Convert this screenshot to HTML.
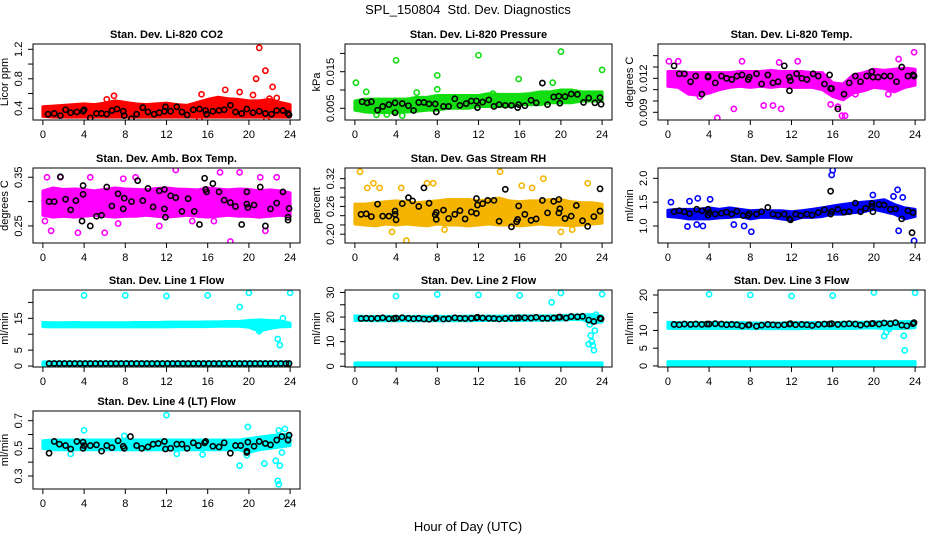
<!DOCTYPE html>
<html><head><meta charset="utf-8"><style>
body{margin:0;background:#fff}
svg text{font-family:"Liberation Sans",Arial,sans-serif}
</style></head><body>
<svg id="chart" width="936" height="540" viewBox="0 0 936 540">
<rect width="936" height="540" fill="#fff"/>
<text x="468" y="14" font-size="13" text-anchor="middle">SPL_150804&#160; Std. Dev. Diagnostics</text>
<text x="468" y="531" font-size="13" text-anchor="middle">Hour of Day (UTC)</text>
</svg>
<script>
const xTicks=[0,4,8,12,16,20,24];
const hours=[0,1,2,3,4,5,6,7,8,9,10,11,12,13,14,15,16,17,18,19,20,21,22,23,24];
const titles=["Stan. Dev. Li-820 CO2","Stan. Dev. Li-820 Pressure","Stan. Dev. Li-820 Temp.","Stan. Dev. Amb. Box Temp.","Stan. Dev. Gas Stream RH","Stan. Dev. Sample Flow","Stan. Dev. Line 1 Flow","Stan. Dev. Line 2 Flow","Stan. Dev. Line 3 Flow","Stan. Dev. Line 4 (LT) Flow"];
const yLabels=["Licor ppm","kPa","degrees C","degrees C","percent","ml/min","ml/min","ml/min","ml/min","ml/min"];
const yLims=[[0.241,1.272],[0.0018,0.02257],[0.00832,0.01503],[0.215,0.369],[0.181,0.343],[0.644,2.216],[-0.3,23.9],[-0.3,31],[-0.3,21.4],[0.206,0.77]];
const yTicks=[[0.4,0.6,0.8,1.0,1.2],[0.005,0.010,0.015,0.020],[0.009,0.010,0.011,0.012,0.013,0.014],[0.25,0.30,0.35],[0.20,0.22,0.24,0.26,0.28,0.30,0.32],[1.0,1.5,2.0],[0,5,10,15,20],[0,5,10,15,20,25,30],[0,5,10,15,20],[0.3,0.4,0.5,0.6,0.7]];
const yTickLabels=[["0.4","","0.8","","1.2"],["0.005","","0.015",""],["0.009","","","0.012","",""],["0.25","","0.35"],["0.20","","","0.26","","","0.32"],["1.0","1.5","2.0"],["0","5","","15",""],["0","","10","","20","","30"],["0","5","10","","20"],["0.3","","0.5","","0.7"]];
const colors=["#ff0000","#11dd11","#ff00ff","#ff00ff","#f4b400","#0000ff","#00ffff","#00ffff","#00ffff","#00ffff"];
const bandLo0=[0.29,0.28,0.28,0.28,0.28,0.28,0.28,0.28,0.28,0.28,0.28,0.28,0.28,0.28,0.28,0.28,0.28,0.28,0.28,0.28,0.28,0.28,0.28,0.28,0.28];
const bandHi0=[0.42,0.43,0.44,0.45,0.46,0.45,0.47,0.5,0.48,0.46,0.45,0.46,0.47,0.45,0.44,0.48,0.52,0.55,0.53,0.52,0.5,0.5,0.52,0.48,0.45];
const bandLo1=[0.0045,0.004,0.0038,0.0038,0.0038,0.004,0.0042,0.0045,0.0045,0.005,0.005,0.005,0.0055,0.0055,0.0055,0.0055,0.006,0.006,0.006,0.0065,0.0065,0.0065,0.007,0.007,0.007];
const bandHi1=[0.007,0.0075,0.0075,0.0075,0.0075,0.0075,0.008,0.008,0.0085,0.0085,0.0085,0.0085,0.0085,0.009,0.0088,0.0088,0.0088,0.009,0.0095,0.0095,0.01,0.01,0.0095,0.0095,0.0095];
const bandLo2=[0.0113,0.0112,0.0106,0.0105,0.0107,0.011,0.0112,0.0113,0.0112,0.0113,0.0112,0.0113,0.0112,0.0112,0.0112,0.011,0.0104,0.0101,0.0107,0.0109,0.0112,0.0111,0.0108,0.0112,0.0114];
const bandHi2=[0.0126,0.0126,0.0125,0.0125,0.0125,0.0125,0.0125,0.0126,0.0126,0.0126,0.0127,0.0126,0.0126,0.0126,0.0125,0.0125,0.0116,0.0115,0.0123,0.0125,0.0128,0.0127,0.0128,0.0129,0.0128];
const bandLo3=[0.272,0.268,0.27,0.268,0.27,0.272,0.27,0.268,0.27,0.27,0.272,0.27,0.268,0.27,0.272,0.27,0.268,0.27,0.272,0.27,0.27,0.268,0.27,0.272,0.27];
const bandHi3=[0.322,0.328,0.325,0.326,0.325,0.322,0.325,0.328,0.326,0.325,0.324,0.327,0.328,0.326,0.325,0.324,0.328,0.326,0.324,0.326,0.325,0.322,0.324,0.322,0.318];
const bandLo4=[0.222,0.22,0.218,0.222,0.22,0.222,0.22,0.218,0.222,0.22,0.22,0.218,0.22,0.222,0.22,0.22,0.218,0.22,0.222,0.22,0.22,0.218,0.22,0.222,0.224];
const bandHi4=[0.265,0.265,0.268,0.27,0.272,0.27,0.268,0.27,0.272,0.275,0.275,0.275,0.272,0.275,0.278,0.272,0.27,0.272,0.272,0.275,0.275,0.27,0.268,0.268,0.265];
const bandLo5=[1.2,1.18,1.15,1.15,1.15,1.17,1.18,1.2,1.15,1.18,1.18,1.15,1.12,1.18,1.18,1.2,1.25,1.25,1.28,1.3,1.35,1.3,1.25,1.15,1.2];
const bandHi5=[1.33,1.35,1.35,1.35,1.38,1.35,1.38,1.35,1.32,1.33,1.32,1.32,1.3,1.32,1.35,1.38,1.42,1.45,1.48,1.5,1.52,1.55,1.45,1.38,1.35];
const bandLo6=[12.4,12.3,12.3,12.3,12.3,12.3,12.3,12.3,12.3,12.3,12.3,12.3,12.3,12.4,12.4,12.4,12.4,12.5,12.5,12.5,12.2,11.0,11.8,12.3,12.4];
const bandHi6=[13.7,13.6,13.6,13.7,13.6,13.6,13.6,13.6,13.6,13.7,13.7,13.7,13.8,13.8,13.8,13.8,13.9,13.9,14.0,14.0,14.3,14.5,14.3,14.2,13.5];
const bandLo6b=[0.3,0.3,0.3,0.3,0.3,0.3,0.3,0.3,0.3,0.3,0.3,0.3,0.3,0.3,0.3,0.3,0.3,0.3,0.3,0.3,0.3,0.3,0.3,0.3,0.3];
const bandHi6b=[1.3,1.3,1.3,1.3,1.3,1.3,1.3,1.3,1.3,1.3,1.3,1.3,1.3,1.3,1.3,1.3,1.3,1.3,1.3,1.3,1.3,1.3,1.3,1.3,1.3];
const bandLo7=[18.6,18.6,18.5,18.5,18.5,18.5,18.5,18.5,18.5,18.5,18.5,18.5,18.6,18.6,18.6,18.6,18.6,18.7,18.7,18.7,18.8,19.0,19.0,17.5,18.0];
const bandHi7=[20.5,20.3,20.3,20.3,20.3,20.3,20.3,20.3,20.3,20.3,20.3,20.4,20.4,20.4,20.4,20.4,20.5,20.5,20.5,20.5,20.6,20.8,20.8,21.0,20.5];
const bandLo7b=[0.4,0.4,0.4,0.4,0.4,0.4,0.4,0.4,0.4,0.4,0.4,0.4,0.4,0.4,0.4,0.4,0.4,0.4,0.4,0.4,0.4,0.4,0.4,0.4,0.4];
const bandHi7b=[1.4,1.4,1.4,1.4,1.4,1.4,1.4,1.4,1.4,1.4,1.4,1.4,1.4,1.4,1.4,1.4,1.4,1.4,1.4,1.4,1.4,1.4,1.4,1.4,1.4];
const bandLo8=[10.6,10.6,10.6,10.6,10.6,10.6,10.6,10.6,10.5,10.5,10.5,10.5,10.5,10.5,10.6,10.6,10.6,10.6,10.6,10.7,10.7,10.5,10.6,10.6,10.8];
const bandHi8=[12.3,12.2,12.2,12.2,12.2,12.2,12.2,12.2,12.1,12.1,12.1,12.1,12.2,12.2,12.2,12.2,12.2,12.3,12.3,12.3,12.4,12.5,12.4,12.5,12.6];
const bandLo8b=[0.3,0.3,0.3,0.3,0.3,0.3,0.3,0.3,0.3,0.3,0.3,0.3,0.3,0.3,0.3,0.3,0.3,0.3,0.3,0.3,0.3,0.3,0.3,0.3,0.3];
const bandHi8b=[1.2,1.2,1.2,1.2,1.2,1.2,1.2,1.2,1.2,1.2,1.2,1.2,1.2,1.2,1.2,1.2,1.2,1.2,1.2,1.2,1.2,1.2,1.2,1.2,1.2];
const bandLo9=[0.5,0.49,0.49,0.49,0.49,0.49,0.49,0.49,0.49,0.49,0.49,0.49,0.49,0.49,0.49,0.49,0.49,0.49,0.49,0.49,0.47,0.49,0.5,0.51,0.52];
const bandHi9=[0.555,0.56,0.56,0.56,0.56,0.56,0.56,0.56,0.56,0.56,0.56,0.56,0.56,0.56,0.56,0.56,0.56,0.56,0.56,0.56,0.57,0.58,0.59,0.6,0.6];
const bands=[[[bandLo0,bandHi0]],[[bandLo1,bandHi1]],[[bandLo2,bandHi2]],[[bandLo3,bandHi3]],[[bandLo4,bandHi4]],[[bandLo5,bandHi5]],[[bandLo6,bandHi6],[bandLo6b,bandHi6b]],[[bandLo7,bandHi7],[bandLo7b,bandHi7b]],[[bandLo8,bandHi8],[bandLo8b,bandHi8b]],[[bandLo9,bandHi9]]];
const outliers0=[[21,1.22],[20.7,0.8],[21.6,0.91],[22.3,0.69],[22,0.53],[6.9,0.57],[15.4,0.59],[17.7,0.65],[19.1,0.62],[20.4,0.58],[22.7,0.54],[6.2,0.52],[21.7,0.25],[15.2,0.26],[8.6,0.26]];
const outliers1=[[0.1,0.012],[1.1,0.0095],[4,0.0181],[8,0.014],[8,0.0102],[12,0.0195],[15.9,0.013],[19.2,0.012],[20,0.0205],[24,0.0155],[6,0.0093],[13.4,0.009],[2.1,0.0032],[4.6,0.003],[3.1,0.0033]];
const outliers2=[[0.1,0.0135],[1,0.0135],[7.2,0.0135],[10.8,0.0134],[12.6,0.0135],[23.9,0.0143],[22.4,0.0137],[4.8,0.0085],[6.4,0.0093],[11,0.0093],[9.3,0.0096],[10.2,0.0096],[16.5,0.0095],[16.9,0.0087],[17.2,0.0087],[3.1,0.0104],[15.8,0.0097],[18.2,0.0106],[21.4,0.0106],[0.5,0.0118]];
const outliers3=[[0.4,0.35],[0.8,0.24],[3.4,0.236],[6,0.236],[4.6,0.35],[7.8,0.347],[12.9,0.365],[17.2,0.36],[18.2,0.218],[19.1,0.36],[21.1,0.35],[22.7,0.35],[21.6,0.24],[9,0.35],[1.7,0.35],[0.2,0.26],[11.3,0.25],[16.6,0.26],[14.5,0.26],[7.3,0.255]];
const outliers4=[[0.5,0.335],[1.2,0.3],[1.8,0.31],[2.4,0.3],[4.5,0.3],[5,0.186],[7,0.31],[7.6,0.31],[8.7,0.21],[14.1,0.335],[16.2,0.305],[17.2,0.3],[18.3,0.32],[22.6,0.31],[3.6,0.205],[20,0.205],[21.1,0.21]];
const outliers5=[[16,2.17],[15.9,2.07],[19.9,1.65],[22.3,1.76],[22.8,1.6],[22.4,0.9],[23.9,0.69],[8.1,0.88],[1.9,0.99],[2.8,1.03],[3.4,1.0],[6.4,1.03],[7.4,1.0],[0.3,1.5],[2.9,1.58],[4.1,1.56],[2.1,1.52],[21.9,1.62]];
const outliers6=[[4,22.2],[8,22.2],[12,22.0],[16,22.2],[19.1,18.6],[20,23.0],[24,23.0],[22.8,8.5],[23,6.6],[23.3,15.0],[21,11.0]];
const outliers7=[[4,28.5],[8,29.2],[12,29],[16,28.8],[19.1,26],[20,29.8],[24,29.3],[22.8,17],[22.9,12.5],[23,10],[23.1,8.5],[23.2,6.5],[23.3,14.5],[23.4,21],[22.7,9]];
const outliers8=[[4,20.2],[8,20],[12,19.7],[16,19.8],[20,20.7],[24,20.6],[21,8.4],[21.2,9.5],[22.9,8.5],[23,4.4],[21.5,10.5]];
const outliers9=[[12,0.74],[4,0.63],[19.9,0.655],[19.1,0.375],[21.5,0.39],[22.6,0.41],[23,0.375],[22.8,0.265],[22.9,0.24],[23.5,0.64],[22.9,0.63],[23.2,0.47],[7.9,0.59],[19.8,0.45],[15.5,0.455],[13,0.46],[2.7,0.46]];
const outliers=[outliers0,outliers1,outliers2,outliers3,outliers4,outliers5,outliers6,outliers7,outliers8,outliers9];
const black0=[[0.5,0.32],[1.1,0.33],[1.7,0.3],[2.2,0.38],[2.7,0.34],[3.3,0.35],[3.9,0.36],[4,0.38],[4.6,0.27],[5.2,0.33],[5.7,0.33],[6.2,0.32],[6.7,0.37],[7.2,0.39],[7.8,0.36],[7.9,0.3],[8.6,0.26],[9.1,0.32],[9.7,0.41],[10.2,0.35],[10.8,0.32],[11.3,0.34],[11.8,0.36],[11.9,0.42],[12.4,0.36],[13,0.42],[13.5,0.35],[14,0.31],[14.6,0.38],[15.2,0.39],[15.8,0.37],[15.9,0.32],[16.5,0.36],[17.1,0.37],[17.6,0.38],[18.2,0.44],[18.7,0.35],[19.3,0.33],[19.8,0.39],[20.4,0.34],[21,0.36],[21.6,0.33],[22.2,0.32],[22.7,0.37],[23.3,0.37],[23.8,0.33],[23.9,0.31]];
const black1=[[0.7,0.0068],[1.2,0.0065],[1.6,0.0068],[2.2,0.0045],[2.7,0.0055],[3.3,0.006],[3.9,0.0065],[3.9,0.0038],[4.6,0.0063],[5.2,0.0057],[5.7,0.0044],[6.2,0.0066],[6.7,0.0066],[7.2,0.0062],[7.8,0.0062],[7.9,0.004],[8.6,0.0055],[9.1,0.0055],[9.7,0.0076],[10.2,0.0058],[10.8,0.0063],[11.3,0.007],[11.8,0.007],[11.9,0.0052],[12.4,0.0067],[13,0.0073],[13.5,0.0055],[14,0.006],[14.6,0.0058],[15.2,0.0058],[15.8,0.0052],[15.9,0.006],[16.5,0.0057],[17.1,0.0072],[17.6,0.0065],[18.2,0.0119],[18.7,0.006],[19.3,0.0081],[19.8,0.0083],[19.9,0.0064],[20.4,0.0082],[21,0.0089],[21.6,0.0088],[22.2,0.0066],[22.7,0.0078],[23.3,0.0065],[23.8,0.0079],[23.9,0.0061]];
const black2=[[0.6,0.0131],[1.1,0.0124],[1.6,0.0124],[2.2,0.0117],[2.7,0.0122],[3.3,0.0106],[3.9,0.0122],[3.9,0.0121],[4.6,0.0116],[5.2,0.0122],[5.7,0.012],[6.2,0.0119],[6.7,0.0122],[7.2,0.0123],[7.8,0.0119],[7.9,0.0121],[8.6,0.0124],[9.1,0.0115],[9.7,0.0123],[10.2,0.0116],[10.7,0.0117],[11.3,0.0131],[11.8,0.0121],[11.8,0.0109],[11.9,0.0118],[12.5,0.0124],[13,0.012],[13.5,0.0119],[14.1,0.0124],[14.6,0.0122],[15.2,0.0115],[15.7,0.0123],[15.8,0.0111],[15.9,0.0111],[16.5,0.0093],[17.1,0.0106],[17.6,0.0116],[18.2,0.0122],[18.7,0.0117],[19.3,0.0122],[19.8,0.0126],[19.9,0.0121],[20.4,0.0121],[21,0.0122],[21.6,0.0122],[22.2,0.0117],[22.7,0.013],[23.3,0.0122],[23.8,0.0123],[23.9,0.0122]];
const black3=[[0.6,0.3],[1.1,0.3],[1.7,0.351],[2.2,0.305],[2.7,0.283],[3.2,0.302],[3.8,0.26],[3.9,0.315],[3.9,0.333],[4.6,0.25],[5.2,0.27],[5.7,0.272],[6.2,0.33],[6.7,0.291],[7.3,0.316],[7.8,0.285],[7.9,0.307],[8.6,0.3],[9.2,0.343],[9.7,0.302],[10.2,0.327],[10.7,0.289],[11.3,0.322],[11.8,0.325],[11.8,0.285],[11.9,0.268],[12.4,0.312],[12.9,0.308],[13.5,0.28],[14.1,0.306],[14.7,0.28],[15.2,0.253],[15.7,0.348],[15.8,0.325],[15.9,0.32],[16.5,0.337],[17.1,0.32],[17.6,0.303],[18.2,0.298],[18.7,0.29],[19.3,0.253],[19.8,0.32],[19.8,0.295],[19.9,0.288],[20.5,0.293],[21.1,0.33],[21.6,0.25],[22.1,0.285],[22.7,0.297],[23.3,0.32],[23.8,0.268],[23.9,0.286],[23.8,0.262]];
const black4=[[0.6,0.243],[1.1,0.244],[1.6,0.238],[2.2,0.265],[2.7,0.239],[3.3,0.239],[3.9,0.243],[3.9,0.25],[4,0.231],[4.6,0.266],[5.2,0.279],[5.6,0.272],[6.2,0.26],[6.7,0.3],[7.2,0.267],[7.8,0.242],[7.9,0.232],[7.9,0.247],[8.6,0.252],[9.1,0.234],[9.7,0.243],[10.2,0.251],[10.7,0.233],[11.3,0.248],[11.8,0.277],[11.8,0.245],[11.9,0.263],[12.4,0.266],[12.9,0.273],[13.5,0.273],[14,0.228],[14.6,0.297],[15.2,0.216],[15.7,0.227],[15.8,0.232],[15.9,0.261],[16.5,0.243],[17.1,0.23],[17.6,0.233],[18.2,0.273],[18.7,0.246],[19.3,0.271],[19.8,0.246],[19.8,0.275],[19.9,0.255],[20.4,0.234],[21,0.239],[21.5,0.262],[22.1,0.229],[22.6,0.217],[23.2,0.238],[23.8,0.25],[23.8,0.298]];
const black5=[[0.6,1.3],[1.1,1.32],[1.6,1.3],[2.1,1.26],[2.8,1.35],[3.3,1.32],[3.9,1.35],[3.9,1.23],[4,1.28],[4.6,1.25],[5.2,1.27],[5.7,1.29],[6.2,1.25],[6.7,1.31],[7.3,1.22],[7.8,1.22],[7.9,1.26],[8.6,1.25],[9.1,1.3],[9.7,1.39],[10.2,1.25],[10.7,1.23],[11.3,1.25],[11.8,1.15],[11.9,1.13],[12.4,1.25],[12.9,1.22],[13.5,1.25],[14,1.23],[14.6,1.28],[15.2,1.34],[15.8,1.25],[15.8,1.73],[15.9,1.3],[16.5,1.35],[17.1,1.29],[17.6,1.3],[18.2,1.48],[18.7,1.3],[19.2,1.37],[19.8,1.47],[19.8,1.41],[19.9,1.3],[20.5,1.45],[21,1.44],[21.6,1.35],[22.1,1.36],[22.7,1.15],[23.3,1.32],[23.8,1.28],[23.7,0.86]];
const black6=[[0.6,0.8],[1.1,0.8],[1.6,0.8],[2.1,0.8],[2.6,0.8],[3.1,0.8],[3.6,0.8],[4.1,0.8],[4.6,0.8],[5.1,0.8],[5.6,0.8],[6.1,0.8],[6.6,0.8],[7.1,0.8],[7.6,0.8],[8.1,0.8],[8.6,0.8],[9.1,0.8],[9.6,0.8],[10.1,0.8],[10.6,0.8],[11.1,0.8],[11.6,0.8],[12.1,0.8],[12.6,0.8],[13.1,0.8],[13.6,0.8],[14.1,0.8],[14.6,0.8],[15.1,0.8],[15.6,0.8],[16.1,0.8],[16.6,0.8],[17.1,0.8],[17.6,0.8],[18.1,0.8],[18.6,0.8],[19.1,0.8],[19.6,0.8],[20.1,0.8],[20.6,0.8],[21.1,0.8],[21.6,0.8],[22.1,0.8],[22.6,0.8],[23.1,0.8],[23.6,0.8],[23.9,0.8]];
const black7=[[0.6,19.4],[1.1,19.5],[1.6,19.4],[2.2,19.5],[2.7,19.7],[3.3,19.3],[3.8,19.4],[4,19.6],[4.6,19.7],[5.2,19.5],[5.7,19.3],[6.2,19.5],[6.7,19.2],[7.2,19.1],[7.8,19.4],[7.9,19.6],[8.6,19.2],[9.1,19.3],[9.7,19.7],[10.2,19.5],[10.7,19.4],[11.3,19.5],[11.8,19.7],[11.9,19.9],[12.4,19.6],[13,19.5],[13.5,19.4],[14,19.2],[14.6,19.4],[15.2,19.6],[15.7,19.6],[15.9,19.7],[16.5,19.7],[17.1,19.6],[17.6,19.9],[18.2,19.5],[18.7,19.5],[19.3,19.6],[19.8,19.9],[19.9,20],[20.5,19.6],[21,20.2],[21.6,20.1],[22.1,20.3],[22.7,18.8],[23.2,18.2],[23.8,19.5],[23.9,19.3]];
const black8=[[0.6,11.7],[1.1,11.6],[1.6,11.8],[2.2,11.7],[2.7,11.8],[3.3,11.7],[3.8,11.8],[4,11.8],[4.6,11.9],[5.2,11.8],[5.7,11.6],[6.2,11.7],[6.7,11.6],[7.2,11.3],[7.8,11.5],[7.9,11.6],[8.6,11.2],[9.1,11.5],[9.7,11.7],[10.2,11.6],[10.7,11.5],[11.3,11.6],[11.8,11.8],[11.9,11.9],[12.4,11.6],[13,11.7],[13.5,11.6],[14,11.4],[14.6,11.7],[15.2,11.8],[15.7,11.8],[15.9,11.9],[16.5,11.7],[17.1,11.8],[17.6,11.9],[18.2,11.8],[18.7,11.5],[19.3,11.8],[19.8,11.9],[19.9,12],[20.5,11.8],[21,12.1],[21.6,11.9],[22.1,12.2],[22.7,11.5],[23.2,11.3],[23.8,11.9],[23.9,12.2]];
const black9=[[0.6,0.465],[1.1,0.55],[1.6,0.53],[2.2,0.52],[2.7,0.495],[3.3,0.55],[3.9,0.545],[3.9,0.5],[4,0.52],[4.6,0.52],[5.2,0.525],[5.7,0.48],[6.2,0.52],[6.7,0.505],[7.3,0.555],[7.8,0.515],[7.9,0.5],[8.5,0.585],[9.1,0.52],[9.6,0.5],[10.2,0.51],[10.7,0.53],[11.2,0.535],[11.8,0.55],[11.9,0.495],[12.4,0.5],[13,0.53],[13.5,0.53],[14,0.5],[14.6,0.54],[15.1,0.52],[15.7,0.54],[15.8,0.55],[16.5,0.515],[17.1,0.51],[17.6,0.54],[18.2,0.465],[18.7,0.52],[19.2,0.52],[19.8,0.48],[19.8,0.47],[19.9,0.545],[20.5,0.515],[21,0.55],[21.6,0.535],[22.1,0.525],[22.7,0.56],[23.2,0.585],[23.8,0.56],[23.9,0.595]];
const blacks=[black0,black1,black2,black3,black4,black5,black6,black7,black8,black9];

const NS="http://www.w3.org/2000/svg";
const svg=document.getElementById('chart');
function mk(tag,attrs,parent){const e=document.createElementNS(NS,tag);for(const k in attrs)e.setAttribute(k,attrs[k]);(parent||svg).appendChild(e);return e;}
const colLeft=[33,345,658], W=267;
const rowTop=[44,168,290,411], rowH=[76,75,77,78];
for(let p=0;p<10;p++){
  const L=colLeft[p%3], T=rowTop[Math.floor(p/3)], H=rowH[Math.floor(p/3)];
  const [y0,y1]=yLims[p];
  const sx=h=>L+(h+0.96)/25.92*W;
  const sy=v=>T+H-(v-y0)/(y1-y0)*H;
  const g=mk('g',{});
  
  
  const clipId='clip'+p;
  const cp=mk('clipPath',{id:clipId},g); mk('rect',{x:L,y:T,width:W,height:H},cp);
  const pg=mk('g',{'clip-path':'url(#'+clipId+')'},g);
  
  
  const col=colors[p];
  bands[p].forEach(([lo,hi])=>{
    let pts=hours.map((h,i)=>sx(h)+','+sy(hi[i]));
    pts=pts.concat(hours.slice().reverse().map((h,j)=>sx(h)+','+sy(lo[hours.length-1-j])));
    const b=mk('polygon',{points:pts.join(' '),fill:col,stroke:col,'stroke-width':3,'stroke-linejoin':'round'},pg);
    
    
  });
  outliers[p].forEach(([h,v])=>{
    const c=mk('circle',{cx:sx(h),cy:sy(v),r:2.6,fill:'none',stroke:col,'stroke-width':1.6},pg);
    
    
  });
  blacks[p].forEach(([h,v])=>{
    const c=mk('circle',{cx:sx(h),cy:sy(v),r:2.6,fill:'none',stroke:'#000','stroke-width':1.6},pg);
    
    
  });
  const box=mk('rect',{x:L,y:T,width:W,height:H,fill:'none',stroke:'#000','stroke-width':1},g);
  
  
  const t=mk('text',{x:L+W/2,y:T-6,'font-size':11,'font-weight':'bold','text-anchor':'middle'},g);
  t.textContent=titles[p];
  
  
  xTicks.forEach(h=>{
    mk('line',{x1:sx(h),x2:sx(h),y1:T+H,y2:T+H+5,stroke:'#000'},g);
    const tl=mk('text',{x:sx(h),y:T+H+18,'font-size':11,'text-anchor':'middle'},g);
    tl.textContent=h;
    
    
  });
  const yt=yTicks[p];
  yt.forEach((v,i)=>{
    const y=sy(v);
    if(y<T-0.5||y>T+H+0.5) return;
    mk('line',{x1:L-5,x2:L,y1:y,y2:y,stroke:'#000'},g);
    const lab=yTickLabels[p][i];
    if(lab){
      const tl=mk('text',{x:0,y:0,'font-size':11,'text-anchor':'middle',transform:`translate(${L-11},${y}) rotate(-90)`},g);
      tl.textContent=lab;
      
      
    }
  });
  const yl=mk('text',{x:0,y:0,'font-size':11,'text-anchor':'middle',transform:`translate(${L-25},${T+H/2}) rotate(-90)`},g);
  yl.textContent=yLabels[p];
  
  
}
</script>
</body></html>
